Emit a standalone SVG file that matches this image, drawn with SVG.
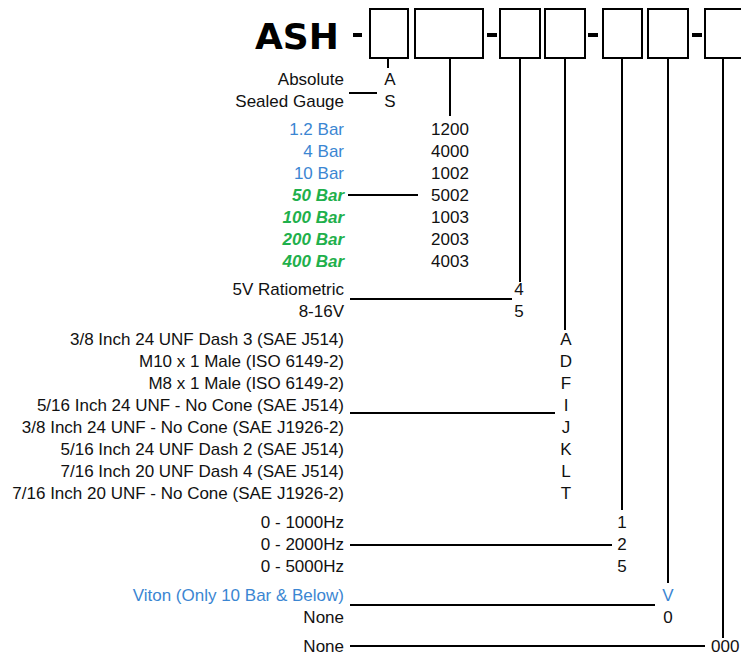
<svg xmlns="http://www.w3.org/2000/svg" width="741" height="660" viewBox="0 0 741 660">
<style>
.t{font-family:"Liberation Sans",Arial,sans-serif;font-size:17px;fill:#111}
.l{text-anchor:end}
.c{text-anchor:middle}
.b{fill:#3b86d2}
.g{fill:#1fb04c;font-weight:bold;font-style:italic}
.box{fill:#fff;stroke:#000;stroke-width:2}
.ln{stroke:#000;stroke-width:2;fill:none}
.dash{fill:#000}
</style>
<rect width="741" height="660" fill="#fff"/>
<g id="title">
<text x="255" y="49" font-family="'DejaVu Sans',Verdana,sans-serif" font-weight="bold" font-size="36" fill="#000">ASH</text>
<rect class="dash" x="353" y="33" width="9" height="4"/>
<rect class="dash" x="487" y="33" width="10" height="4"/>
<rect class="dash" x="588" y="33" width="10" height="4"/>
<rect class="dash" x="692" y="33" width="10" height="4"/>
</g>
<g id="box-type"><rect class="box" x="370" y="9" width="38" height="49"/></g>
<g id="box-range"><rect class="box" x="415" y="9" width="68" height="49"/></g>
<g id="box-output"><rect class="box" x="500" y="9" width="40" height="49"/></g>
<g id="box-fitting"><rect class="box" x="545" y="9" width="40" height="49"/></g>
<g id="box-frequency"><rect class="box" x="603" y="9" width="39" height="49"/></g>
<g id="box-seal"><rect class="box" x="648" y="9" width="40" height="49"/></g>
<g id="box-option"><rect class="box" x="705" y="9" width="45" height="49"/></g>
<g id="connectors">
<line class="ln" x1="388" y1="58" x2="388" y2="68"/>
<line class="ln" x1="349" y1="93" x2="377" y2="93"/>
<line class="ln" x1="450" y1="58" x2="450" y2="116"/>
<line class="ln" x1="348" y1="195" x2="418" y2="195"/>
<line class="ln" x1="520" y1="58" x2="520" y2="282"/>
<line class="ln" x1="350" y1="299" x2="512" y2="299"/>
<line class="ln" x1="565" y1="58" x2="565" y2="330"/>
<line class="ln" x1="350" y1="413" x2="555" y2="413"/>
<line class="ln" x1="622" y1="58" x2="622" y2="510"/>
<line class="ln" x1="350" y1="545" x2="612" y2="545"/>
<line class="ln" x1="668" y1="58" x2="668" y2="583"/>
<line class="ln" x1="350" y1="605" x2="655" y2="605"/>
<line class="ln" x1="723" y1="58" x2="723" y2="638"/>
<line class="ln" x1="350" y1="646" x2="705" y2="646"/>
</g>
<g id="opt-type">
<text class="t l" x="344" y="85">Absolute</text>
<text class="t l" x="344" y="107">Sealed Gauge</text>
<text class="t c" x="390" y="85">A</text>
<text class="t c" x="390" y="107">S</text>
</g>
<g id="opt-range">
<text class="t l b" x="344" y="135">1.2 Bar</text>
<text class="t l b" x="344" y="157">4 Bar</text>
<text class="t l b" x="344" y="179">10 Bar</text>
<text class="t l g" x="344" y="201">50 Bar</text>
<text class="t l g" x="344" y="223">100 Bar</text>
<text class="t l g" x="344" y="245">200 Bar</text>
<text class="t l g" x="344" y="267">400 Bar</text>
<text class="t c" x="450" y="135">1200</text>
<text class="t c" x="450" y="157">4000</text>
<text class="t c" x="450" y="179">1002</text>
<text class="t c" x="450" y="201">5002</text>
<text class="t c" x="450" y="223">1003</text>
<text class="t c" x="450" y="245">2003</text>
<text class="t c" x="450" y="267">4003</text>
</g>
<g id="opt-output">
<text class="t l" x="344" y="295">5V Ratiometric</text>
<text class="t l" x="344" y="317">8-16V</text>
<text class="t c" x="519" y="295">4</text>
<text class="t c" x="519" y="317">5</text>
</g>
<g id="opt-fitting">
<text class="t l" x="344" y="345">3/8 Inch 24 UNF Dash 3 (SAE J514)</text>
<text class="t l" x="344" y="367">M10 x 1 Male (ISO 6149-2)</text>
<text class="t l" x="344" y="389">M8 x 1 Male (ISO 6149-2)</text>
<text class="t l" x="344" y="411">5/16 Inch 24 UNF - No Cone (SAE J514)</text>
<text class="t l" x="344" y="433">3/8 Inch 24 UNF - No Cone (SAE J1926-2)</text>
<text class="t l" x="344" y="455">5/16 Inch 24 UNF Dash 2 (SAE J514)</text>
<text class="t l" x="344" y="477">7/16 Inch 20 UNF Dash 4 (SAE J514)</text>
<text class="t l" x="344" y="499">7/16 Inch 20 UNF - No Cone (SAE J1926-2)</text>
<text class="t c" x="566" y="345">A</text>
<text class="t c" x="566" y="367">D</text>
<text class="t c" x="566" y="389">F</text>
<text class="t c" x="566" y="411">I</text>
<text class="t c" x="566" y="433">J</text>
<text class="t c" x="566" y="455">K</text>
<text class="t c" x="566" y="477">L</text>
<text class="t c" x="566" y="499">T</text>
</g>
<g id="opt-frequency">
<text class="t l" x="344" y="528">0 - 1000Hz</text>
<text class="t l" x="344" y="550">0 - 2000Hz</text>
<text class="t l" x="344" y="572">0 - 5000Hz</text>
<text class="t c" x="622" y="528">1</text>
<text class="t c" x="622" y="550">2</text>
<text class="t c" x="622" y="572">5</text>
</g>
<g id="opt-seal">
<text class="t l b" x="344" y="601">Viton (Only 10 Bar &amp; Below)</text>
<text class="t l" x="344" y="623">None</text>
<text class="t c b" x="668" y="601">V</text>
<text class="t c" x="668" y="623">0</text>
</g>
<g id="opt-option">
<text class="t l" x="344" y="652">None</text>
<text class="t" x="711" y="652">000</text>
</g>
</svg>
